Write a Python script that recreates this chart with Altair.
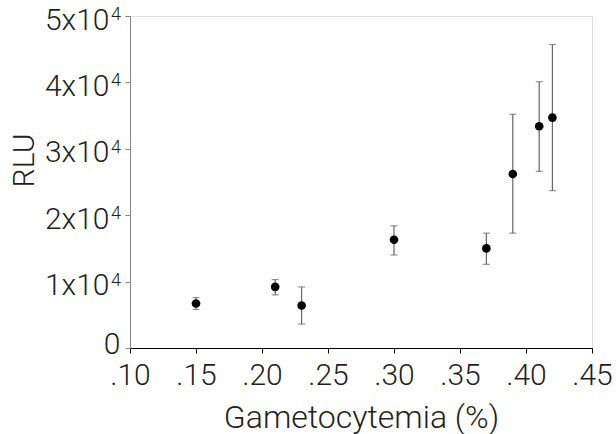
import altair as alt
import pandas as pd

gametocytemia = [0.15, 0.21, 0.23, 0.30, 0.37, 0.39, 0.41, 0.42]
rlu_mean = [6700, 9200, 6400, 16300, 15000, 26200, 33400, 34700]
rlu_low = [5800, 8000, 3600, 14000, 12600, 17300, 26600, 23700]
rlu_high = [7600, 10300, 9200, 18400, 17300, 35200, 40100, 45700]

x_ticks = [0.10, 0.15, 0.20, 0.25, 0.30, 0.35, 0.40, 0.45]
y_ticks = [0, 10000, 20000, 30000, 40000, 50000]
y_exp_ticks = [10000, 20000, 30000, 40000, 50000]
exponent = "4"

df = pd.DataFrame({"x": gametocytemia, "y": rlu_mean, "lo": rlu_low, "hi": rlu_high})
sup_df = pd.DataFrame({"v": y_exp_ticks, "t": [exponent] * len(y_exp_ticks)})

FONT = "Roboto"
WEIGHT = 300
TXT = "#231f20"

xs = alt.Scale(domain=[0.10, 0.45], nice=False, zero=False)
ys = alt.Scale(domain=[0, 50000], nice=False)

xaxis = alt.Axis(
    values=x_ticks,
    labelExpr="substring(format(datum.value, '.2f'), 1)",
    labelFlush=False,
    title="Gametocytemia (%)",
    grid=False,
    domainColor="#000", tickColor="#000", tickSize=5,
    labelFont=FONT, labelFontWeight=WEIGHT, labelFontSize=30, labelColor=TXT, labelPadding=7,
    titleFont=FONT, titleFontWeight=WEIGHT, titleFontSize=32, titleColor=TXT,
    titlePadding=12,
)
yaxis = alt.Axis(
    values=y_ticks,
    labelExpr="datum.value == 0 ? '0' : format(datum.value / 10000, 'd') + 'x10'",
    labelFlush=False,
    labelOverlap=False,
    title="RLU",
    grid=False,
    domainColor="#888", tickColor="#888", tickSize=5,
    labelFont=FONT, labelFontWeight=WEIGHT, labelFontSize=30, labelColor=TXT,
    labelPadding={"condition": {"test": "datum.value == 0", "value": 5}, "value": 16},
    labelOffset={"condition": {"test": "datum.value == 0", "value": -4}, "value": 4},
    labelBaseline="middle",
    titleFont=FONT, titleFontWeight=WEIGHT, titleFontSize=30, titleColor=TXT,
    titleAngle=-90, titleAlign="center", titleBaseline="middle",
    titleX=-106, titleY=144,
)

base = alt.Chart(df)

rules = base.mark_rule(color="#666", strokeWidth=1.2).encode(
    x=alt.X("x:Q", scale=xs, axis=xaxis),
    y=alt.Y("lo:Q", scale=ys, axis=yaxis),
    y2="hi:Q",
)
cap_lo = base.mark_tick(color="#666", orient="horizontal", size=7, thickness=1.2).encode(
    x=alt.X("x:Q", scale=xs), y=alt.Y("lo:Q", scale=ys)
)
cap_hi = base.mark_tick(color="#666", orient="horizontal", size=7, thickness=1.2).encode(
    x=alt.X("x:Q", scale=xs), y=alt.Y("hi:Q", scale=ys)
)
pts = base.mark_point(filled=True, color="#000", opacity=1, size=75, shape="circle").encode(
    x=alt.X("x:Q", scale=xs), y=alt.Y("y:Q", scale=ys)
)
sup = alt.Chart(sup_df).mark_text(
    font=FONT, fontWeight=WEIGHT, fontSize=18, color=TXT,
    align="right", baseline="middle", dx=-9, dy=-1,
).encode(
    x=alt.value(0),
    y=alt.Y("v:Q", scale=ys),
    text="t:N",
)

chart = alt.layer(rules, cap_lo, cap_hi, pts, sup).properties(
    width=462, height=332,
    autosize=alt.AutoSizeParams(type="none"),
    padding={"left": 130, "top": 16, "right": 24, "bottom": 86},
).configure_view(stroke=None).configure(background="white")

chart.save("out.html", embed_options={"renderer": "svg", "actions": False})
